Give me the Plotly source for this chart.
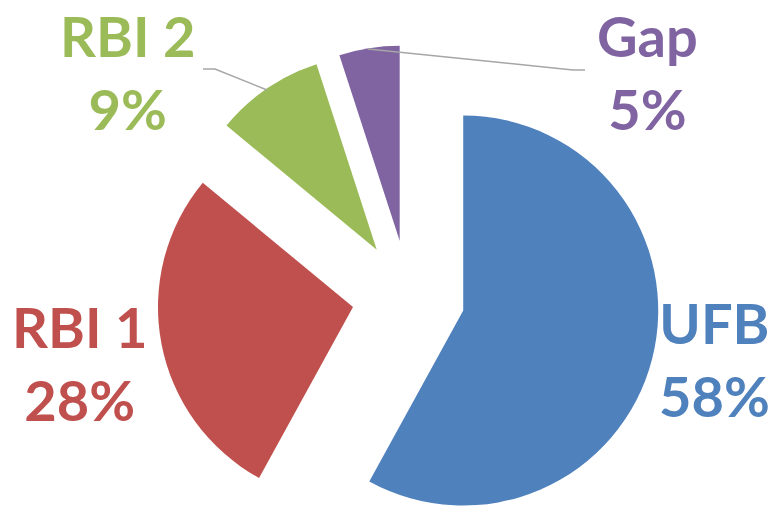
import math
import plotly.graph_objects as go

# ---- data ----
categories = ["UFB", "RBI 1", "RBI 2", "Gap"]
values = [58, 28, 9, 5]
colors = ["#4F81BD", "#C0504D", "#9BBB59", "#8064A2"]

# ---- layout constants (pixels in the page; the page body has an 8px margin) ----
OFF = 8
W, H = 779 - OFF, 506 - OFF
CX, CY = 408.5, 296.5     # undisplaced pie centre
R = 195                    # pie radius
PULL = 56.5                # explosion distance


def fx(px):
    return (px - OFF) / W


def fy(py):
    return 1 - (py - OFF) / H


fig = go.Figure()
total = sum(values)
cum = 0.0
for i, (cat, v) in enumerate(zip(categories, values)):
    mid = (cum + v / 2) / total * 2 * math.pi  # clockwise from 12 o'clock
    cum += v
    cx = CX + PULL * math.sin(mid)
    cy = CY - PULL * math.cos(mid)
    slice_colors = [c if j == i else "rgba(0,0,0,0)" for j, c in enumerate(colors)]
    fig.add_trace(go.Pie(
        labels=categories,
        values=values,
        sort=False,
        direction="clockwise",
        rotation=0,
        marker=dict(colors=slice_colors, line=dict(width=0)),
        textinfo="none",
        hoverinfo="label+percent",
        showlegend=False,
        domain=dict(x=[max(0, fx(cx - R)), min(1, fx(cx + R))],
                    y=[max(0, fy(cy + R)), min(1, fy(cy - R))]),
    ))

# labels (pixel centres)
label_pos = {"UFB": (714, 359), "RBI 1": (80, 363), "RBI 2": (128, 72), "Gap": (647, 72)}
annotations = []
for cat, v, c in zip(categories, values, colors):
    px, py = label_pos[cat]
    annotations.append(dict(
        x=fx(px), y=fy(py), xref="paper", yref="paper",
        text=f"<b>{cat}<br>{round(v / total * 100)}%</b>",
        showarrow=False, xanchor="center", yanchor="middle",
        font=dict(family="Lato", size=56, color=c),
    ))

# leader lines (pixel coordinates)
leaders = [
    [(203, 69), (215, 69), (267, 90)],
    [(368, 49), (573, 70), (585, 70)],
]
shapes = []
for pts in leaders:
    path = "M " + " L ".join(f"{fx(x)},{fy(y)}" for x, y in pts)
    shapes.append(dict(type="path", xref="paper", yref="paper", path=path,
                       line=dict(color="#A6A6A6", width=1.5)))

fig.update_layout(
    width=W, height=H,
    margin=dict(l=0, r=0, t=0, b=0),
    paper_bgcolor="white", plot_bgcolor="white",
    annotations=annotations, shapes=shapes,
)

fig.write_html("out.html")
